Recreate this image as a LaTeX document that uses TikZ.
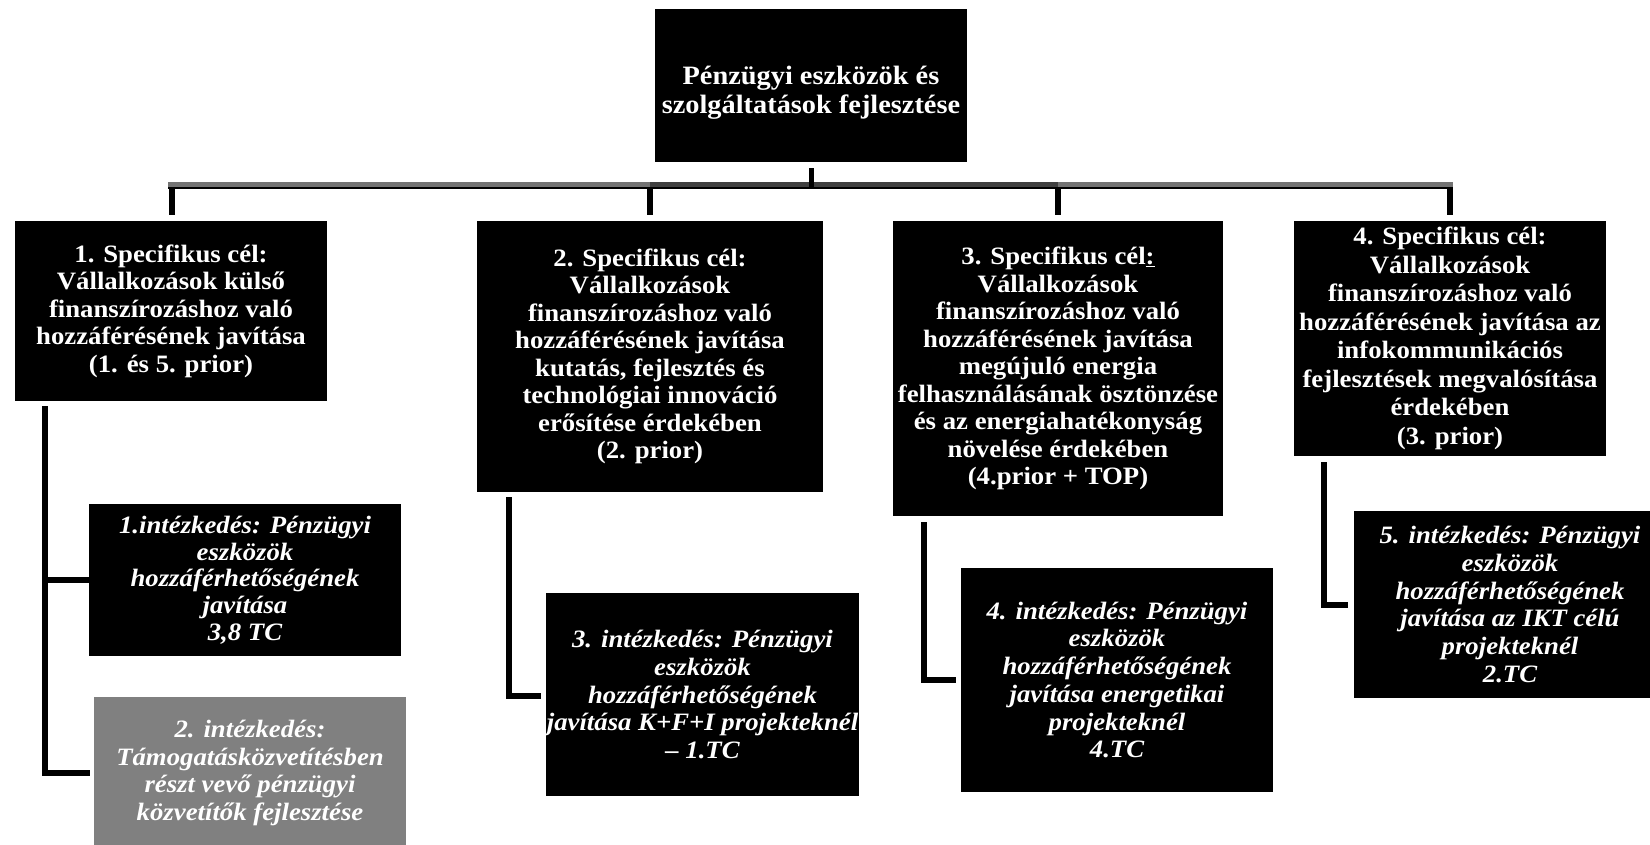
\documentclass[tikz,border=0pt]{standalone}
\usepackage{fontspec}
\setmainfont{Liberation Serif}[FakeStretch=1.07]
\begin{document}
\begin{tikzpicture}[x=1pt,y=-1pt,
  box/.style={fill=black,text=white,inner sep=0pt,align=center,
    font=\bfseries\fontsize{25}{27.5}\selectfont},
  mbox/.style={box,font=\bfseries\itshape\fontsize{25}{27.7}\selectfont},
  conn/.style={line width=6pt,black},
  drop/.style={line width=6.5pt,black}]
\useasboundingbox (0,0) rectangle (1650,845);

% top
\node[box,minimum width=312pt,minimum height=153pt] (top) at (811,85.5) {};
\node[text=white,inner sep=0pt,align=center,
      font=\bfseries\fontsize{26.5}{29}\selectfont] (toptext) at ([yshift=-7pt]top.center)
  {Pénzügyi eszközök és\\szolgáltatások fejlesztése};

% specific goals
\node[box,minimum width=312pt,minimum height=180pt] (s1) at (171,311)
  {1. Specifikus cél:\\Vállalkozások külső\\finanszírozáshoz való\\hozzáférésének javítása\\(1. és 5. prior)};
\node[box,minimum width=346pt,minimum height=271pt] (s2) at (650,356.5)
  {2. Specifikus cél:\\Vállalkozások\\finanszírozáshoz való\\hozzáférésének javítása\\kutatás, fejlesztés és\\technológiai innováció\\erősítése érdekében\\(2. prior)};
\node[box,minimum width=330pt,minimum height=295pt] (s3) at (1058,368.5)
  {3. Specifikus cél\underline{:}\\Vállalkozások\\finanszírozáshoz való\\hozzáférésének javítása\\megújuló energia\\felhasználásának ösztönzése\\és az energiahatékonyság\\növelése érdekében\\(4.prior + TOP)};
\node[box,minimum width=312pt,minimum height=235pt,
      font=\bfseries\fontsize{25}{28.5}\selectfont] (s4) at (1450,338.5)
  {4. Specifikus cél:\\Vállalkozások\\finanszírozáshoz való\\hozzáférésének javítása az\\infokommunikációs\\fejlesztések megvalósítása\\érdekében\\(3. prior)};

% measures
\node[mbox,minimum width=312pt,minimum height=152pt,
      font=\bfseries\itshape\fontsize{25}{26.7}\selectfont] (m1) at (245,580)
  {1.intézkedés: Pénzügyi\\eszközök\\hozzáférhetőségének\\javítása\\3,8 TC};
\node[mbox,fill={rgb,255:red,128;green,128;blue,128},minimum width=312pt,minimum height=152pt] (m2) at (250,773)
  {2. intézkedés:\\Támogatásközvetítésben\\részt vevő pénzügyi\\közvetítők fejlesztése};
\node[mbox,minimum width=313pt,minimum height=203pt] (m3) at (702.5,694.5)
  {3. intézkedés: Pénzügyi\\eszközök\\hozzáférhetőségének\\javítása K+F+I projekteknél\\– 1.TC};
\node[mbox,minimum width=312pt,minimum height=224pt] (m4) at (1117,680)
  {4. intézkedés: Pénzügyi\\eszközök\\hozzáférhetőségének\\javítása energetikai\\projekteknél\\4.TC};
\node[mbox,minimum width=312pt,minimum height=187pt] (m5) at (1510,604.5)
  {5. intézkedés: Pénzügyi\\eszközök\\hozzáférhetőségének\\javítása az IKT célú\\projekteknél\\2.TC};

% bus bar
\coordinate (hubT) at ([yshift=-20pt]top.south);
\coordinate (hubM) at ([yshift=-25pt]top.south);
\coordinate (hubB) at ([yshift=-27pt]top.south);
\fill[black!55] ([xshift=-3pt]s1.north |- hubT) rectangle ([xshift=3pt]s4.north |- hubB);
\fill[black!75] (s2.north |- hubT) rectangle (s3.north |- hubB);
\fill[black] ([xshift=-3pt]s1.north |- hubM) rectangle ([xshift=3pt]s4.north |- hubB);
\draw[line width=5pt] ([yshift=-6pt]top.south) -- (hubB);
\draw[drop] ([xshift=1pt]s1.north |- hubB) -- ([xshift=1pt,yshift=6pt]s1.north);
\draw[drop] (s2.north |- hubB) -- ([yshift=6pt]s2.north);
\draw[drop] (s3.north |- hubB) -- ([yshift=6pt]s3.north);
\draw[drop] (s4.north |- hubB) -- ([yshift=6pt]s4.north);

% side stems
\coordinate (a1) at ([xshift=30pt,yshift=-5pt]s1.south west);
\draw[conn] (a1) |- ([xshift=-4pt]m2.west);
\draw[conn] (a1 |- m1.west) -- (m1.west);
\coordinate (a2) at ([xshift=32.5pt,yshift=-5pt]s2.south west);
\draw[conn] (a2) |- ([xshift=-5pt,yshift=-1.5pt]m3.west);
\coordinate (a3) at ([xshift=31.5pt,yshift=-6pt]s3.south west);
\draw[conn] (a3) |- ([xshift=-5pt]m4.west);
\coordinate (a4) at ([xshift=30.5pt,yshift=-6pt]s4.south west);
\draw[conn] (a4) |- ([xshift=-6pt]m5.west);
\end{tikzpicture}
\end{document}
